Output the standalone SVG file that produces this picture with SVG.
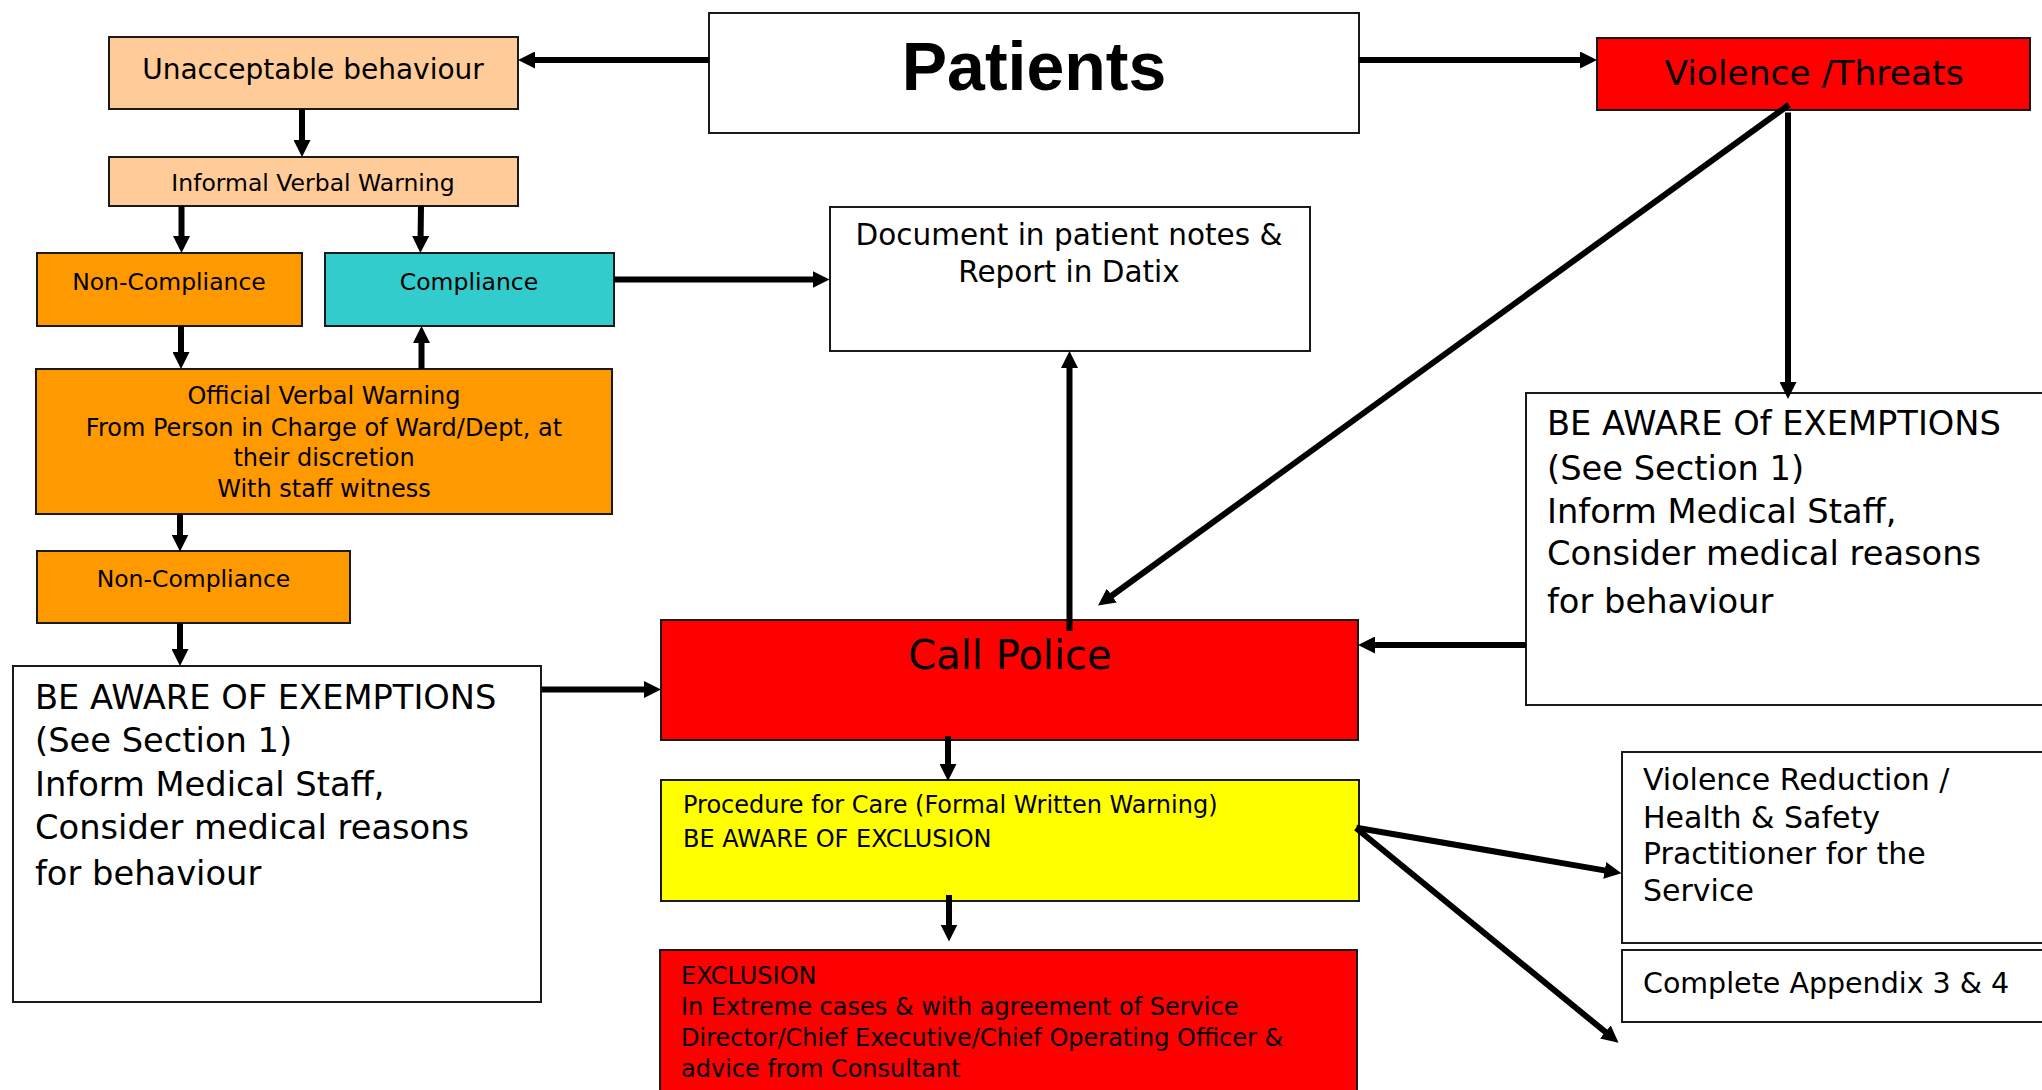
<svg xmlns="http://www.w3.org/2000/svg" width="2042" height="1090" viewBox="0 0 2042 1090">
<style>
.box{stroke:#1a1a1a;stroke-width:2}
.peach{fill:#FFCC99}.orange{fill:#FF9900}.teal{fill:#33CCCC}.red{fill:#FF0000}.yellow{fill:#FFFF00}.white{fill:#FFFFFF}
text{font-family:"DejaVu Sans","Liberation Sans",sans-serif;fill:#000}
.c{text-anchor:middle}
.s23{font-size:23.5px}.s24{font-size:24px}.s28{font-size:28px}.s29{font-size:29.5px}.s34{font-size:33.7px}
.conn line{stroke:#000;stroke-width:6;marker-end:url(#ah)}
</style>
<defs>
<marker id="ah" viewBox="0 0 17 17" refX="7" refY="8.5" markerWidth="17" markerHeight="17" markerUnits="userSpaceOnUse" orient="auto">
<path d="M0,0 L17,8.5 L0,17 z" fill="#000"/>
</marker>
</defs>
<rect width="2042" height="1090" fill="#FFFFFF"/>

<g id="patients"><rect class="box white" x="709" y="13" width="650" height="120"/>
<text class="c" x="1034" y="90" style="font-family:'Liberation Sans',Arial,sans-serif;font-weight:bold;font-size:68px">Patients</text></g>

<g id="unacceptable"><rect class="box peach" x="109" y="37" width="409" height="72"/>
<text class="c s28" x="313" y="79">Unacceptable behaviour</text></g>

<g id="informal"><rect class="box peach" x="109" y="157" width="409" height="49"/>
<text class="c s23" x="313" y="191">Informal Verbal Warning</text></g>

<g id="noncompliance1"><rect class="box orange" x="37" y="253" width="265" height="73"/>
<text class="c s23" x="169" y="290">Non-Compliance</text></g>

<g id="compliance"><rect class="box teal" x="325" y="253" width="289" height="73"/>
<text class="c s23" x="469" y="290">Compliance</text></g>

<g id="official"><rect class="box orange" x="36" y="369" width="576" height="145"/>
<text class="c s24" x="324" y="404">Official Verbal Warning</text>
<text class="c s24" x="324" y="436">From Person in Charge of Ward/Dept, at</text>
<text class="c s24" x="324" y="466">their discretion</text>
<text class="c s24" x="324" y="497">With staff witness</text></g>

<g id="noncompliance2"><rect class="box orange" x="37" y="551" width="313" height="72"/>
<text class="c s23" x="193.5" y="587">Non-Compliance</text></g>

<g id="exemptions-left"><rect class="box white" x="13" y="666" width="528" height="336"/>
<text class="s34" x="35" y="709">BE AWARE OF EXEMPTIONS</text>
<text class="s34" x="35" y="752">(See Section 1)</text>
<text class="s34" x="35" y="796">Inform Medical Staff,</text>
<text class="s34" x="35" y="839">Consider medical reasons</text>
<text class="s34" x="35" y="885">for behaviour</text></g>

<g id="document"><rect class="box white" x="830" y="207" width="480" height="144"/>
<text class="c s29" x="1069" y="245">Document in patient notes &amp;</text>
<text class="c s29" x="1069" y="282">Report in Datix</text></g>

<g id="violence"><rect class="box red" x="1597" y="38" width="433" height="72"/>
<text class="c" x="1814" y="85" style="font-size:34.5px">Violence /Threats</text></g>

<g id="exemptions-right"><rect class="box white" x="1526" y="393" width="530" height="312"/>
<text class="s34" x="1547" y="435">BE AWARE Of EXEMPTIONS</text>
<text class="s34" x="1547" y="480">(See Section 1)</text>
<text class="s34" x="1547" y="523">Inform Medical Staff,</text>
<text class="s34" x="1547" y="565">Consider medical reasons</text>
<text class="s34" x="1547" y="613">for behaviour</text></g>

<g id="call-police"><rect class="box red" x="661" y="620" width="697" height="120"/>
<text class="c" x="1010" y="669" style="font-size:40px">Call Police</text></g>

<g id="procedure"><rect class="box yellow" x="661" y="780" width="698" height="121"/>
<text class="s24" x="683" y="813">Procedure for Care (Formal Written Warning)</text>
<text class="s24" x="683" y="847">BE AWARE OF EXCLUSION</text></g>

<g id="exclusion"><rect class="box red" x="660" y="950" width="697" height="160"/>
<text class="s24" x="681" y="984">EXCLUSION</text>
<text class="s24" x="681" y="1015">In Extreme cases &amp; with agreement of Service</text>
<text class="s24" x="681" y="1046">Director/Chief Executive/Chief Operating Officer &amp;</text>
<text class="s24" x="681" y="1077">advice from Consultant</text></g>

<g id="violence-reduction"><rect class="box white" x="1622" y="752" width="440" height="191"/>
<text x="1643" y="790" style="font-size:30px">Violence Reduction /</text>
<text x="1643" y="828" style="font-size:30px">Health &amp; Safety</text>
<text x="1643" y="864" style="font-size:30px">Practitioner for the</text>
<text x="1643" y="901" style="font-size:30px">Service</text></g>

<g id="appendix"><rect class="box white" x="1622" y="950" width="440" height="72"/>
<text x="1643" y="993" style="font-size:28.5px">Complete Appendix 3 &amp; 4</text></g>

<g id="connectors" class="conn">
<line x1="709" y1="60" x2="528" y2="60"/>
<line x1="1359" y1="60" x2="1587" y2="60"/>
<line x1="302" y1="109" x2="302" y2="147"/>
<line x1="181.5" y1="206" x2="181.5" y2="243"/>
<line x1="421" y1="206" x2="420.5" y2="243"/>
<line x1="614" y1="279.5" x2="819.5" y2="279.5"/>
<line x1="181" y1="326" x2="181" y2="359"/>
<line x1="421.5" y1="369" x2="421.5" y2="336"/>
<line x1="180" y1="514" x2="180" y2="541.5"/>
<line x1="180" y1="623.5" x2="180" y2="656"/>
<line x1="541.5" y1="689.5" x2="651" y2="689.5"/>
<line x1="1069.5" y1="631" x2="1069.5" y2="361"/>
<line x1="1789" y1="104.7" x2="1106.1" y2="599.7"/>
<line x1="1788" y1="112.5" x2="1788" y2="389"/>
<line x1="1526" y1="645" x2="1368" y2="645"/>
<line x1="948" y1="736" x2="948" y2="771"/>
<line x1="949" y1="895" x2="949" y2="931.5"/>
<line x1="1356.4" y1="827.7" x2="1611.6" y2="871.6"/>
<line x1="1356" y1="828" x2="1610.8" y2="1036.4"/>
</g>
</svg>
